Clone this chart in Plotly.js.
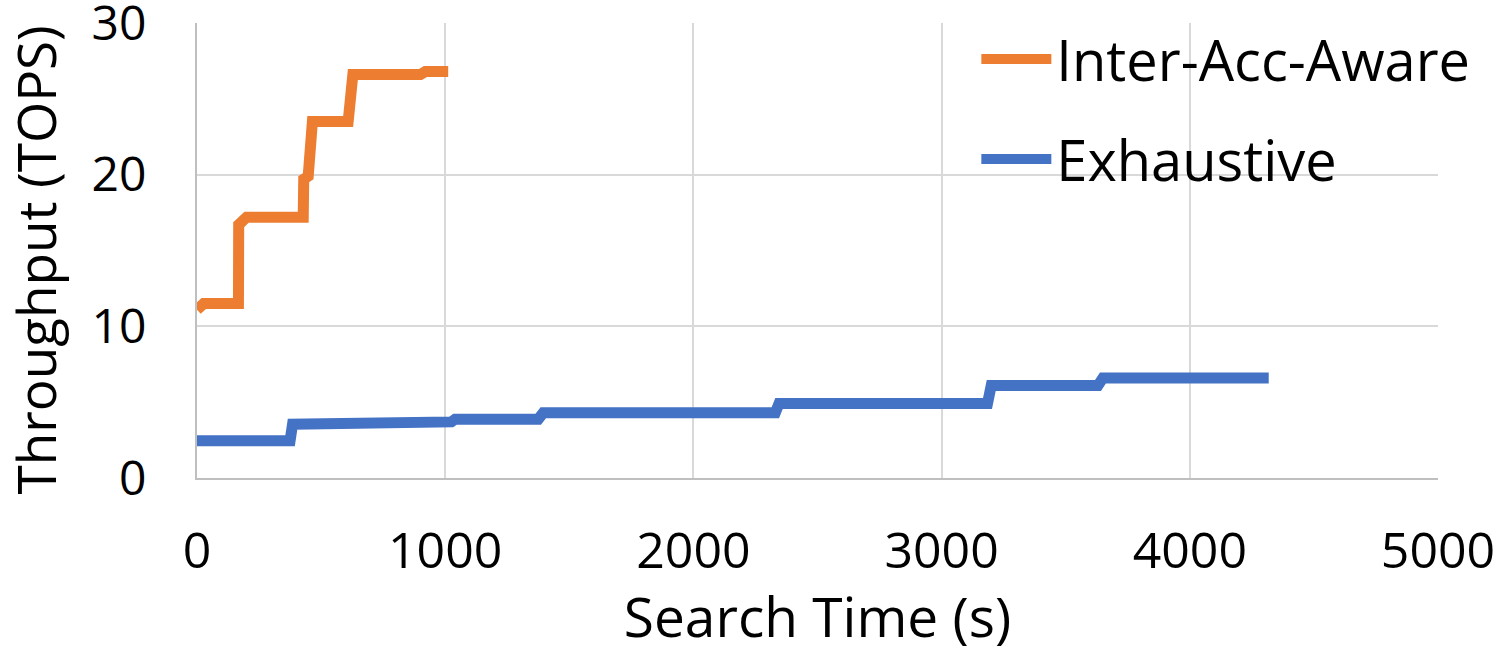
<!DOCTYPE html>
<html>
<head>
<meta charset="utf-8">
<script src="https://cdn.plot.ly/plotly-3.0.1.min.js"></script>
<style>
html,body{margin:0;padding:0;background:#fff;}
#chart{width:1495px;height:653px;}
</style>
</head>
<body>
<div id="chart"></div>
<script>
// Search time (s) and throughput (TOPS)
const interAccTime = [0, 27, 167, 168, 200, 428, 430, 448, 465, 609, 628, 900, 920, 1012];
const interAccTops = [11.1, 11.5, 11.5, 16.7, 17.2, 17.2, 19.7, 19.9, 23.5, 23.5, 26.6, 26.6, 26.8, 26.8];

const exhaustiveTime = [0, 375, 385, 645, 660, 1025, 1040, 1375, 1395, 2330, 2345, 3185, 3200, 3630, 3650, 4318];
const exhaustiveTops = [2.45, 2.45, 3.55, 3.55, 3.7, 3.7, 3.88, 3.88, 4.3, 4.3, 4.92, 4.92, 6.1, 6.1, 6.6, 6.6];

const seriesNames = ["Inter-Acc-Aware", "Exhaustive"];
const seriesColors = ["#ED7D31", "#4472C4"];

const xTicks = [0, 1000, 2000, 3000, 4000, 5000];
const yTicks = [0, 10, 20, 30];
const xTitle = "Search Time (s)";
const yTitle = "Throughput (TOPS)";

const FONT = "Open Sans, Noto Sans, sans-serif";

const traces = [
  {x: interAccTime, y: interAccTops, name: seriesNames[0], legendgroup: "a",
   mode: "lines", line: {color: seriesColors[0], width: 11}},
  {x: exhaustiveTime, y: exhaustiveTops, name: seriesNames[1], legendgroup: "b",
   mode: "lines", line: {color: seriesColors[1], width: 11}}
];

const layout = {
  width: 1495, height: 653,
  margin: {l: 197, r: 57, t: 23, b: 175},
  paper_bgcolor: "#fff", plot_bgcolor: "#fff",
  font: {family: FONT, size: 52, color: "#000"},
  xaxis: {
    range: [0, 5000], tickvals: xTicks, ticktext: xTicks.map(String),
    showgrid: true, gridcolor: "#D9D9D9", gridwidth: 2,
    showline: true, linecolor: "#BFBFBF", linewidth: 2,
    zeroline: false, ticks: "", ticklabelstandoff: 28,
    ticklabeloverflow: "allow",
    tickfont: {family: FONT, size: 50},
    title: {text: xTitle, font: {family: FONT, size: 55}, standoff: 10}
  },
  yaxis: {
    range: [0, 30], tickvals: yTicks, ticktext: yTicks.map(String),
    showgrid: true, gridcolor: "#D9D9D9", gridwidth: 2,
    showline: true, linecolor: "#BFBFBF", linewidth: 2,
    zeroline: false, ticks: "", ticklabelstandoff: 39,
    ticklabeloverflow: "allow",
    tickfont: {family: FONT, size: 48}
  },
  annotations: [{
    text: yTitle, textangle: -90, showarrow: false,
    xref: "paper", yref: "paper", x: 0, y: 0.5,
    xanchor: "center", yanchor: "middle", xshift: -162, yshift: -10,
    borderpad: 0,
    font: {family: FONT, size: 53, color: "#000"}
  }],
  showlegend: true,
  legend: {
    x: 0.628, y: 1.015, xanchor: "left", yanchor: "top",
    bgcolor: "rgba(0,0,0,0)", borderwidth: 0,
    font: {family: FONT, size: 56},
    traceorder: "grouped", tracegroupgap: 24, itemwidth: 70
  }
};

Plotly.newPlot("chart", traces, layout, {displayModeBar: false, staticPlot: true});
</script>
</body>
</html>
